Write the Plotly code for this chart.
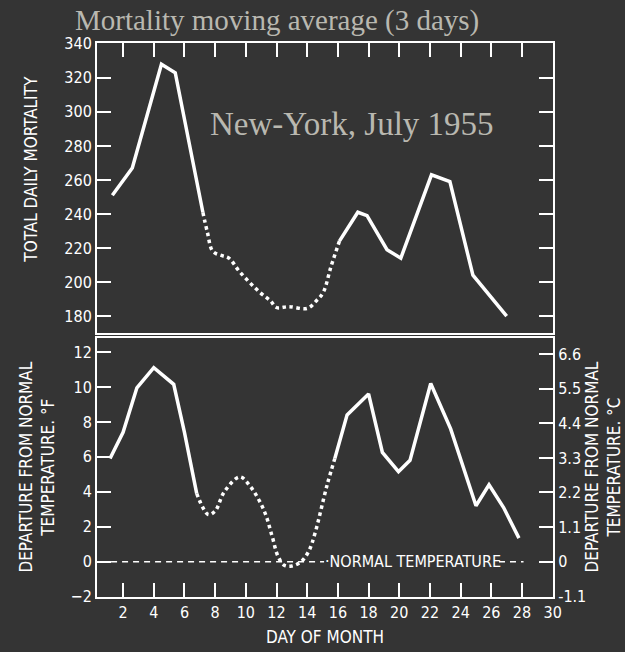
import plotly.graph_objects as go

# ---- data ----
mort_solid1_day = [1.3, 2.3, 2.6, 4.5, 5.4, 7.2]
mort_solid1_val = [251, 263, 267, 328, 323, 241]
mort_dot_day = [7.2, 7.5, 7.85, 8.45, 8.9, 9.6, 10.9, 11.6, 12.0, 12.8, 14.0, 14.6, 15.05, 15.55, 16.1]
mort_dot_val = [241, 229, 218, 215.5, 214, 206, 194, 189, 185, 185.5, 184.5, 189, 194, 209, 224]
mort_solid2_day = [16.1, 17.3, 17.9, 19.2, 20.1, 22.1, 23.3, 24.8, 27.0]
mort_solid2_val = [224, 241, 239, 219, 214, 263, 259, 204, 180]

temp_solid1_day = [1.15, 2.0, 2.9, 4.0, 5.3, 6.0, 6.8]
temp_solid1_val = [5.9, 7.4, 9.95, 11.1, 10.15, 7.4, 3.9]
temp_dot_day = [6.8, 7.55, 8.0, 8.6, 9.6, 10.3, 11.2, 11.7, 12.1, 12.5, 13.0, 13.6, 14.1, 14.5, 15.3, 15.8]
temp_dot_val = [3.9, 2.7, 2.9, 4.0, 4.85, 4.3, 2.9, 1.5, 0.3, -0.2, -0.25, 0.0, 0.6, 1.6, 4.4, 5.9]
temp_solid2_day = [15.8, 16.6, 18.0, 18.9, 19.95, 20.7, 22.05, 23.35, 25.0, 25.85, 26.8, 27.8]
temp_solid2_val = [5.9, 8.4, 9.6, 6.25, 5.15, 5.8, 10.2, 7.6, 3.2, 4.4, 3.1, 1.35]

normal_seg1_day = [0.5, 15.1]
normal_seg2_day = [26.5, 28.1]
normal_val = [0, 0]

mort_ticks = [180, 200, 220, 240, 260, 280, 300, 320, 340]
tempF_ticks = [-2, 0, 2, 4, 6, 8, 10, 12]
tempC_ticks = [-1.1, 0, 1.1, 2.2, 3.3, 4.4, 5.5, 6.6]
tempC_labels = ["-1.1", "0", "1.1", "2.2", "3.3", "4.4", "5.5", "6.6"]
day_ticks = list(range(2, 31, 2))

BG = "#343434"
FG = "white"
FAM = "Liberation Sans Narrow, DejaVu Sans Condensed, Arial Narrow, sans-serif"
TICKFONT = dict(family=FAM, size=16, color=FG)
TITLEFONT = dict(family=FAM, size=17, color=FG)
LINE_W = 3.5

fig = go.Figure()

def add(x, y, xa, ya, dash=None, shape="linear", width=LINE_W, opacity=1):
    fig.add_trace(go.Scatter(x=x, y=y, mode="lines", xaxis=xa, yaxis=ya, opacity=opacity,
                             line=dict(color=FG, width=width, dash=dash, shape=shape),
                             hoverinfo="skip", showlegend=False))

add(mort_solid1_day, mort_solid1_val, "x", "y")
add(mort_dot_day, mort_dot_val, "x", "y", dash="dot", shape="spline")
add(mort_solid2_day, mort_solid2_val, "x", "y")

add(normal_seg1_day, normal_val, "x2", "y2", dash="6px,5px", width=1.6)
add(normal_seg2_day, normal_val, "x2", "y2", dash="6px,5px", width=1.6)
# invisible helper so that the Celsius axis is drawn
add(normal_seg1_day, normal_val, "x2", "y3", width=0.1, opacity=0)
add(temp_solid1_day, temp_solid1_val, "x2", "y2")
add(temp_dot_day, temp_dot_val, "x2", "y2", dash="dot", shape="spline")
add(temp_solid2_day, temp_solid2_val, "x2", "y2")

xr = [0.3, 30.02]
yF = [-2.02, 12.8]
yC = [v * 5 / 9 for v in yF]

common = dict(showline=True, linecolor=FG, linewidth=2, ticks="inside", ticklen=14,
              tickwidth=2, tickcolor=FG, showgrid=False, zeroline=False, tickfont=TICKFONT,
              automargin=False)

fig.update_layout(
    width=625, height=652,
    paper_bgcolor=BG, plot_bgcolor=BG,
    margin=dict(l=97, r=72, t=43, b=55),
    xaxis=dict(domain=[0, 1], anchor="y", range=xr, side="top", tickvals=day_ticks,
               showticklabels=False, mirror=True, **common),
    yaxis=dict(domain=[0.4765, 1], anchor="x", range=[170, 340.5], tickvals=mort_ticks,
               mirror="ticks", **common),
    xaxis2=dict(domain=[0, 1], anchor="y2", range=xr, tickvals=day_ticks, mirror=True,
                title=dict(text="DAY OF MONTH", font=TITLEFONT, standoff=10), **common),
    yaxis2=dict(domain=[0, 0.4675], anchor="x2", range=yF, tickvals=tempF_ticks, **common),
    yaxis3=dict(overlaying="y2", anchor="x2", side="right", range=yC, tickvals=tempC_ticks,
                ticktext=tempC_labels, **common),
)

serif = "Liberation Serif, Times New Roman, serif"
fig.add_annotation(text="Mortality moving average (3 days)", xref="paper", yref="paper",
                   x=0.395, y=1.0, yshift=23, xanchor="center", yanchor="middle", showarrow=False,
                   font=dict(family=serif, size=29, color="#b9b8b0"))
fig.add_annotation(text="New-York, July 1955", xref="x", yref="y", x=16.9, y=293,
                   xanchor="center", yanchor="middle", showarrow=False,
                   font=dict(family=serif, size=33, color="#b9b8b0"))
fig.add_annotation(text="·NORMAL TEMPERATURE", xref="x2", yref="y2", x=20.9, y=0,
                   xanchor="center", yanchor="middle", showarrow=False, font=TICKFONT)
fig.add_annotation(text="TOTAL DAILY MORTALITY", xref="paper", yref="paper",
                   x=-0.145, y=0.773, xanchor="center", yanchor="middle",
                   textangle=-90, showarrow=False, font=TITLEFONT)
fig.add_annotation(text="DEPARTURE FROM NORMAL<br>TEMPERATURE. °F", xref="paper", yref="paper",
                   x=-0.132, y=0.235, xanchor="center", yanchor="middle",
                   textangle=-90, showarrow=False, font=TITLEFONT)
fig.add_annotation(text="DEPARTURE FROM NORMAL<br>TEMPERATURE. °C", xref="paper", yref="paper",
                   x=1.109, y=0.235, xanchor="center", yanchor="middle",
                   textangle=-90, showarrow=False, font=TITLEFONT)

fig.write_html("out.html", config={"displayModeBar": False},
               post_script="document.body.style.margin='0';document.body.style.overflow='hidden';")
